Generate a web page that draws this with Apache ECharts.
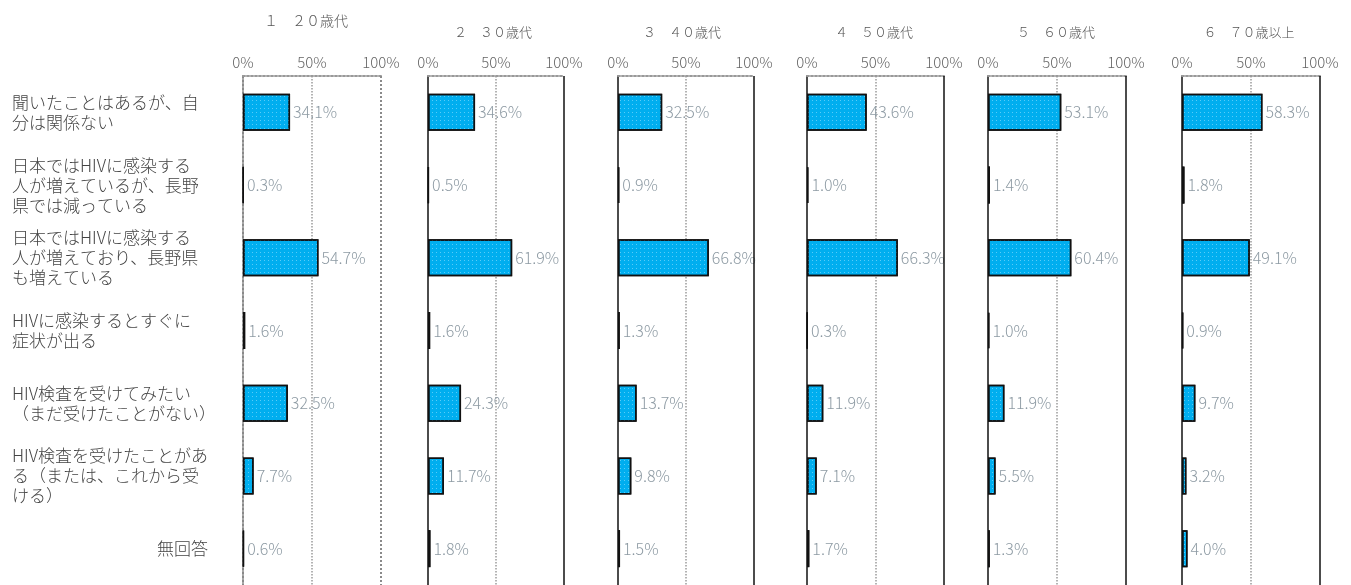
<!DOCTYPE html>
<html>
<head>
<meta charset="utf-8">
<script src="https://cdn.jsdelivr.net/npm/echarts@6/dist/echarts.min.js"></script>
<style>html,body{margin:0;padding:0;background:#fff;}#c{width:1351px;height:585px;}</style>
</head>
<body>
<div id="c"></div>
<script>
const categories = [
  '聞いたことはあるが、自\n分は関係ない',
  '日本ではHIVに感染する\n人が増えているが、長野\n県では減っている',
  '日本ではHIVに感染する\n人が増えており、長野県\nも増えている',
  'HIVに感染するとすぐに\n症状が出る',
  'HIV検査を受けてみたい\n（まだ受けたことがない）',
  'HIV検査を受けたことがあ\nる（または、これから受\nける）',
  '無回答'
];
const panelTitles = ['１　２０歳代', '２　３０歳代', '３　４０歳代', '４　５０歳代', '５　６０歳代', '６　７０歳以上'];
const age20 = [34.1, 0.3, 54.7, 1.6, 32.5, 7.7, 0.6];
const age30 = [34.6, 0.5, 61.9, 1.6, 24.3, 11.7, 1.8];
const age40 = [32.5, 0.9, 66.8, 1.3, 13.7, 9.8, 1.5];
const age50 = [43.6, 1.0, 66.3, 0.3, 11.9, 7.1, 1.7];
const age60 = [53.1, 1.4, 60.4, 1.0, 11.9, 5.5, 1.3];
const age70 = [58.3, 1.8, 49.1, 0.9, 9.7, 3.2, 4.0];
const tickValues = [0, 50, 100];

const panelData = [age20, age30, age40, age50, age60, age70];
const lefts = [243, 428, 618, 807, 988, 1182];
const widths = [138, 136, 136, 137, 138, 138];
const titleX = [301, 488, 677, 869, 1051, 1244];
const titleY = [9, 21, 21, 21, 21, 21];
const FONT = '"Noto Sans CJK JP", "Noto Sans", sans-serif';

const grids = [], xAxes = [], yAxes = [], series = [], titles = [];
panelData.forEach((vals, i) => {
  const first = i === 0;
  const edgeColor = first ? '#8a8a8a' : '#111';
  const edgeType = first ? 'dotted' : 'solid';
  grids.push({ left: lefts[i], width: widths[i], top: 76, height: 515, containLabel: false });
  titles.push({
    text: panelTitles[i], left: titleX[i], top: titleY[i], textAlign: 'center',
    textStyle: { fontSize: first ? 14 : 13, fontWeight: 300, color: '#555', fontFamily: FONT }
  });
  xAxes.push({
    gridIndex: i, type: 'value', min: 0, max: 100, interval: 50, position: 'top',
    axisLine: { show: true, lineStyle: { color: '#999', width: 2, type: 'dotted' } },
    axisTick: { show: false },
    axisLabel: { show: true, margin: 6, fontSize: 15, fontWeight: 300, color: '#666', fontFamily: FONT,
      formatter: v => tickValues.includes(v) ? v + '%' : '' },
    splitLine: { show: true, lineStyle: { color: ['transparent', '#9a9a9a', 'transparent'], type: 'dotted', width: 1.5 } }
  });
  yAxes.push({
    gridIndex: i, type: 'category', data: categories, inverse: true,
    axisLine: { show: true, lineStyle: { color: edgeColor, width: first ? 2 : 1.5, type: edgeType } },
    axisTick: { show: false },
    axisLabel: first ? {
      show: true, margin: 231, align: 'left', fontSize: 17, fontWeight: 300, lineHeight: 20, color: '#444', fontFamily: FONT,
      formatter: v => v === '無回答' ? '{r|' + v + '}' : v,
      rich: { r: { width: 196, align: 'right', fontSize: 17, fontWeight: 300, color: '#444', fontFamily: FONT } }
    } : { show: false }
  });
  series.push({
    type: 'bar', xAxisIndex: i, yAxisIndex: i, data: vals, barWidth: 37,
    itemStyle: {
      color: '#00AEEF', borderColor: '#111', borderWidth: 1.5,
      decal: { symbol: 'rect', symbolSize: 1, dashArrayX: [1, 3], dashArrayY: [1, 3], color: 'rgba(160,230,255,0.55)', rotation: 0 }
    },
    label: { show: true, position: 'right', distance: 3, fontSize: 16, fontWeight: 300, color: '#8d9aa3', fontFamily: FONT,
      formatter: p => p.value.toFixed(1) + '%' },
    markLine: {
      silent: true, symbol: 'none', label: { show: false },
      lineStyle: { color: edgeColor, width: first ? 2 : 1.5, type: edgeType },
      data: [{ xAxis: 100 }]
    },
    animation: false
  });
});

const chart = echarts.init(document.getElementById('c'));
chart.setOption({
  animation: false,
  aria: { enabled: true, decal: { show: true } },
  title: titles,
  grid: grids,
  xAxis: xAxes,
  yAxis: yAxes,
  series: series
});
</script>
</body>
</html>
